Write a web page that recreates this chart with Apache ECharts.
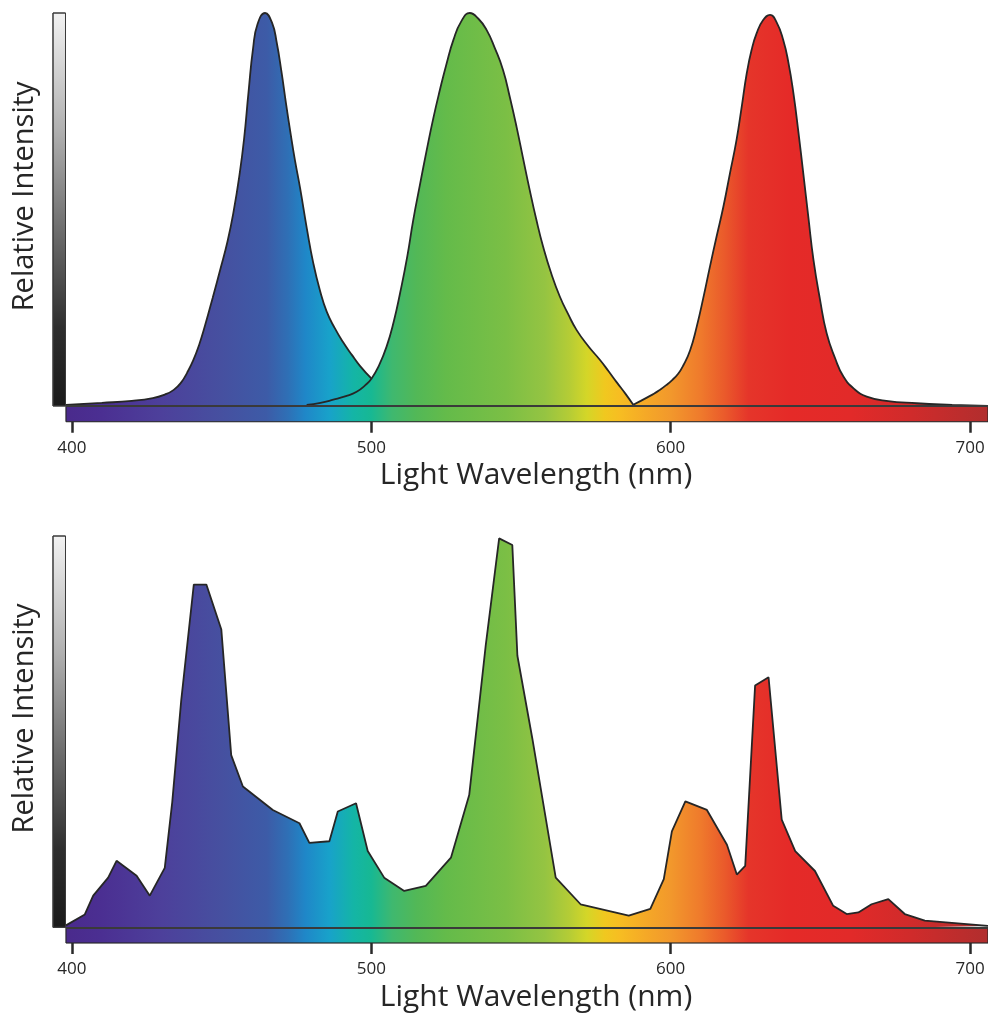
<!DOCTYPE html>
<html><head><meta charset="utf-8">
<script src="https://cdn.jsdelivr.net/npm/echarts@6/dist/echarts.min.js"></script>
<style>html,body{margin:0;padding:0;background:#fff}#c{width:988px;height:1013px}</style>
</head><body><div id="c"></div>
<script>
// ---- data (wavelength nm, relative intensity %) ----
const xTicks = [400, 500, 600, 700];

const ledBlue = [[398,0.3],[410,0.8],[420,1.3],[427,2.0],[431,2.9],[434,4.1],[436.5,6.0],[438.5,8.5],[440.5,11.6],[442.5,15.6],[444.5,20.6],[447,27.5],[449.5,34.6],[452,42.0],[454,49.5],[456,59],[457.5,68],[459,80],[460.5,91],[462,97.2],[464.5,100],[466.8,97.6],[468.4,92.5],[470,85],[471.5,77],[473,69.5],[474.5,62.5],[476.2,55.5],[478.5,45],[480.6,36.4],[482.8,29.5],[485.1,24],[487.8,19.8],[490.6,16.2],[493.5,13],[496.2,10.2],[500,7.0]];

const ledGreen = [[478.4,0.25],[483,0.8],[487.3,1.6],[491.5,2.5],[495.1,3.6],[498,5.3],[500.1,7.0],[502.5,10.2],[505.1,15.1],[507.5,21.5],[509.6,28.7],[512,38],[514,47.3],[516.3,56.5],[518.5,65.1],[520.7,73.2],[522.9,80.4],[525.2,87.3],[527.4,93.1],[530,97.8],[532.9,100],[535.7,98.6],[538.5,95.7],[541.3,91],[544,85.5],[546.3,78.5],[548.5,71.1],[550.7,63],[552.9,55.0],[555.1,47.5],[557.4,40.5],[560.2,33.5],[563,27.8],[565.8,23.3],[568.6,19.3],[572.5,15.2],[576.4,11.7],[579.2,8.9],[582,6],[584.8,3.2],[587.5,0.3]];

const ledRed = [[587.5,0.3],[590,1.3],[592.2,2.2],[594.4,3.1],[596.4,4.1],[598.5,5.3],[600.5,6.6],[602.5,8.2],[604.2,10.3],[606.5,14.2],[608.7,20.2],[610.9,27.5],[613.1,35.4],[615.3,43],[617.6,50.7],[619.8,59.2],[622,67.7],[623.8,76.5],[625.4,84.6],[627,90.5],[628.7,94.8],[630.9,98.2],[633.2,99.5],[635.4,97.6],[637.6,93.1],[639.3,87.5],[641,79.6],[642.7,69.5],[644.3,59.2],[646,48],[647.7,37.2],[649.9,27],[652.1,18.5],[654.9,12.2],[657.7,7.5],[661.5,4.2],[665.5,2.4],[672,1.3],[682.2,0.7],[694,0.3],[706,0]];

const fluorescent = [[398,0.5],[404.3,3.3],[407.1,8.1],[412.1,12.7],[414.9,17.0],[421.6,13.2],[426,8.1],[431,15.2],[433.5,32],[436.5,58],[440.7,87.6],[444.9,87.6],[449.9,76.1],[453.2,44.0],[457.1,36.0],[467.1,30.0],[476,26.6],[479.3,21.6],[486,22.0],[488.8,29.6],[494.9,31.7],[498.8,19.5],[504.3,12.7],[511,9.3],[518.2,10.6],[526.6,17.8],[532.7,33.8],[538.2,71.9],[542.7,99.4],[547.1,97.7],[548.8,69.4],[553.8,48.2],[561.6,12.7],[569.9,5.9],[586,3.0],[593.2,4.7],[597.7,12.3],[600.4,24.5],[604.9,32.2],[612.1,30.0],[618.8,21.1],[622.1,13.5],[624.9,15.7],[628.2,61.8],[632.7,63.9],[637.1,27.5],[641.6,19.5],[648.2,14.4],[654.3,5.5],[658.8,3.4],[662.7,3.8],[667.1,5.9],[672.7,7.2],[678.2,3.4],[684.9,1.7],[706,0.4]];

// spectrum colour stops (wavelength, colour)
const spectrumStops = [[398,'#4a2a8c'],[410,'#4b2f92'],[430,'#4d409b'],[450,'#4650a0'],[465,'#3d5ba7'],[472,'#2f6fb5'],[478,'#1f87c8'],[486,'#18a2ca'],[494,'#14b5a6'],[500,'#17b893'],[507,'#3fb86f'],[515,'#52b857'],[525,'#64bb4a'],[545,'#7bbf45'],[558,'#95c442'],[566,'#b4cc36'],[572,'#d4d628'],[578,'#f0c81f'],[583,'#f7bd22'],[592,'#f5a827'],[600,'#f2982c'],[610,'#ef7a2c'],[618,'#ea5a2b'],[626,'#e5352a'],[640,'#e52a28'],[660,'#e22a29'],[680,'#d02b2b'],[706,'#b12e2e']];

// ---- styling ----
const X_MIN = 392, X_MAX = 706, Y_MIN = -4, Y_MAX = 100;
const S0 = 398, S1 = 706;
const FONT = '"Open Sans", "Noto Sans", sans-serif';
const TEXT = '#262626';
const STROKE = '#262626';
const stops = spectrumStops.map(([w, c]) => ({offset: (w - S0) / (S1 - S0), color: c}));
const grayStops = [{offset:0,color:'#f2f2f2'},{offset:0.3,color:'#b0b0b0'},{offset:0.55,color:'#6e6e6e'},{offset:0.8,color:'#2e2e2e'},{offset:1,color:'#1a1a1a'}];

const chart = echarts.init(document.getElementById('c'));

function decor() {
  return {
    markArea: {silent: true, label: {show: false}, data: [
      [{coord: [S0, Y_MIN], itemStyle: {color: {type:'linear',x:0,y:0,x2:1,y2:0,colorStops:stops}, borderColor:'rgba(40,40,40,0.7)', borderWidth:1}}, {coord: [S1, 0]}],
      [{coord: [393.67, 0], itemStyle: {color: {type:'linear',x:0,y:0,x2:0,y2:1,colorStops:grayStops}, borderColor:'#3a3a3a', borderWidth:1}}, {coord: [397.85, Y_MAX]}]
    ]},
    markLine: {silent: true, symbol: 'none', label: {show: false}, lineStyle: {color:'#3a3a3a', width:2, type:'solid'},
      data: [[{coord: [S0, 0]}, {coord: [S1, 0]}]]}
  };
}

function xAxis(i) {
  return {type:'value', gridIndex:i, min:X_MIN, max:X_MAX,
    axisLine:{show:false, onZero:false}, splitLine:{show:false},
    axisTick:{show:true, customValues:xTicks, length:11, lineStyle:{color:'#2a2a2a', width:2.5}},
    axisLabel:{customValues:xTicks, margin:18, fontSize:17, fontWeight:500, color:TEXT, fontFamily:FONT},
    name:'Light Wavelength (nm)', nameLocation:'middle', nameGap:39,
    nameTextStyle:{fontSize:30, color:TEXT, fontFamily:FONT, padding:[0,0,0,36]}};
}
function yAxis(i) {
  return {type:'value', gridIndex:i, min:Y_MIN, max:Y_MAX,
    axisLine:{show:false}, axisTick:{show:false}, axisLabel:{show:false}, splitLine:{show:false},
    name:'Relative Intensity', nameLocation:'middle', nameRotate:90, nameGap:9,
    nameTextStyle:{fontSize:29, color:TEXT, fontFamily:FONT, padding:[0,0,0,42]}};
}
function area(id, data, gi, smooth, extra) {
  return Object.assign({id, type:'line', xAxisIndex:gi, yAxisIndex:gi, data, smooth, symbol:'none',
    lineStyle:{color:STROKE, width:1.8}, areaStyle:{color:'#888', opacity:1}, silent:true,
    emphasis:{disabled:true}}, extra || {});
}

const option = {
  animation:false,
  backgroundColor:'#fff',
  grid:[{left:48, right:0, top:13, height:408.7}, {left:48, right:0, top:536, height:409.8}],
  xAxis:[xAxis(0), xAxis(1)],
  yAxis:[yAxis(0), yAxis(1)],
  series:[
    area('blue', ledBlue, 0, 0.5, decor()),
    area('green', ledGreen, 0, 0.5),
    area('red', ledRed, 0, 0.5),
    area('fluor', fluorescent, 1, false, decor())
  ]
};
chart.setOption(option);

const x0 = chart.convertToPixel({xAxisIndex:0}, S0);
const x1 = chart.convertToPixel({xAxisIndex:0}, S1);
const grad = () => ({type:'linear', x:x0, y:0, x2:x1, y2:0, global:true, colorStops:stops});
chart.setOption({series:['blue','green','red','fluor'].map(id => ({id, areaStyle:{color:grad(), opacity:1}}))});
</script>
</body></html>
